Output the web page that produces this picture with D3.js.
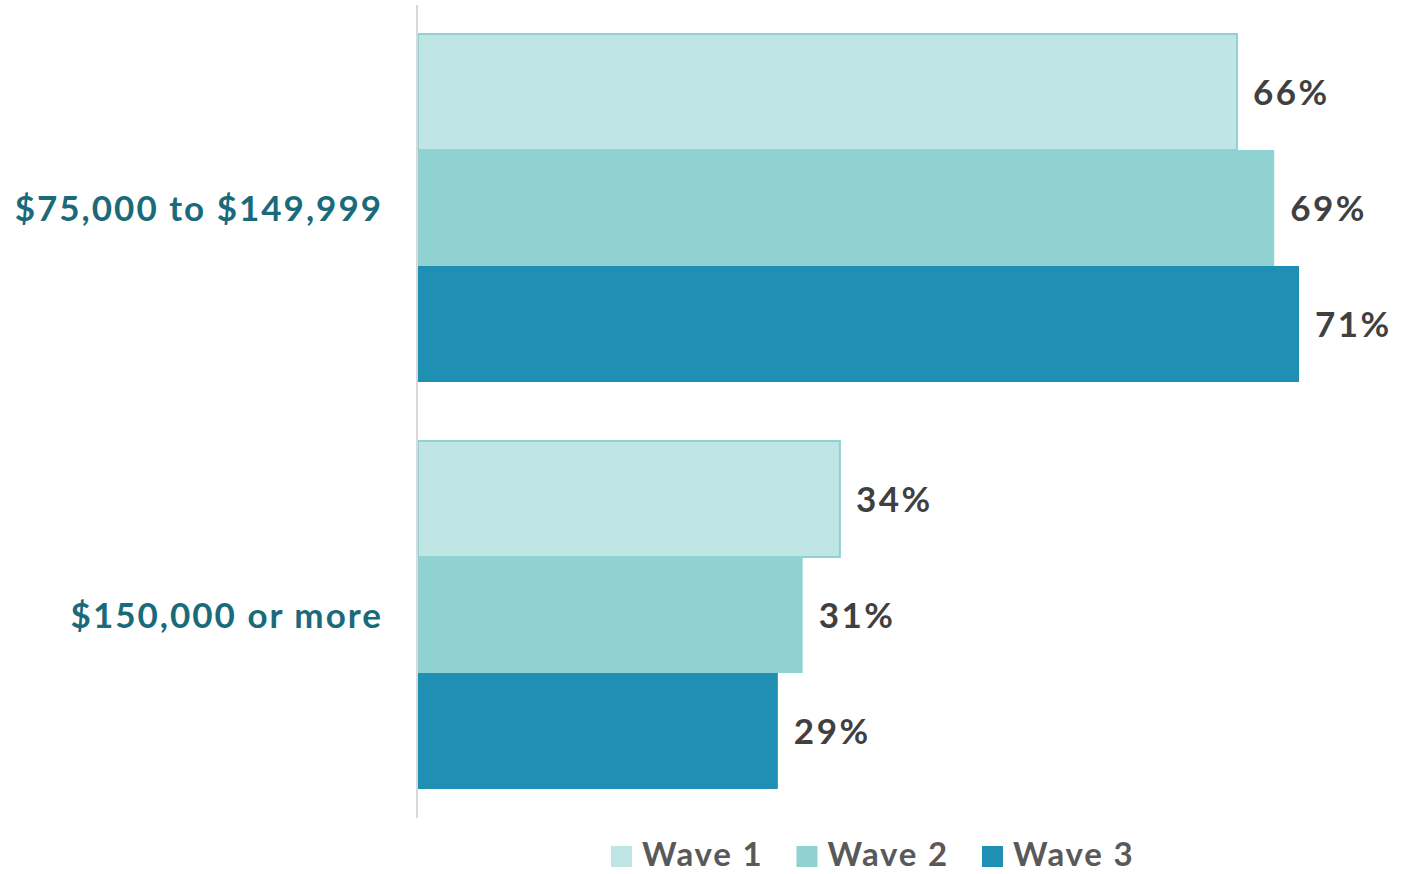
<!DOCTYPE html>
<html><head><meta charset="utf-8">
<script src="https://cdn.jsdelivr.net/npm/d3@7"></script>
<style>body{margin:0;background:#fff;} svg{display:block;}</style>
</head><body>
<svg id="c" width="1417" height="874"></svg>
<script>
const categories = ["$75,000 to $149,999", "$150,000 or more"];
const series = ["Wave 1", "Wave 2", "Wave 3"];
const wave1 = [66, 34];
const wave2 = [69, 31];
const wave3 = [71, 29];
const seriesValues = [wave1, wave2, wave3];
const colors = ["#bfe5e4", "#8fd2d1", "#1f8fb4"];
const strokes = ["#8fd2d1", "none", "none"];

const svg = d3.select("#c");
const font = "Lato, 'DejaVu Sans', sans-serif";
const x0 = 418;
const x = d3.scaleLinear().domain([0, 71]).range([x0, 1299]);
const y = d3.scaleBand().domain(categories).range([5, 818]).paddingInner(0.145).paddingOuter(0.0713);
const yi = d3.scaleBand().domain(series).range([0, y.bandwidth()]).padding(0);

const data = [];
categories.forEach((c, ci) => series.forEach((s, si) => data.push({c, s, si, v: seriesValues[si][ci]})));

svg.selectAll("rect.bar").data(data).join("rect")
  .attr("class", "bar")
  .attr("x", x0)
  .attr("y", d => y(d.c) + yi(d.s))
  .attr("width", d => x(d.v) - x0)
  .attr("height", yi.bandwidth())
  .attr("fill", d => colors[d.si])
  .attr("stroke", d => strokes[d.si])
  .attr("stroke-width", 2);

svg.selectAll("text.val").data(data).join("text")
  .attr("class", "val")
  .attr("x", d => x(d.v) + 16)
  .attr("y", d => y(d.c) + yi(d.s) + yi.bandwidth() / 2)
  .attr("dy", "0.36em")
  .attr("font-family", font).attr("font-weight", 700).attr("font-size", 35)
  .attr("letter-spacing", 2.5)
  .attr("fill", "#404040")
  .text(d => d.v + "%");

// axis line
const yAxis = d3.axisLeft(y).tickSize(0).tickPadding(34);
const ag = svg.append("g").attr("transform", `translate(${x0 - 1},0)`).call(yAxis);
ag.select(".domain").attr("stroke", "#d9d9d9").attr("stroke-width", 2).attr("d", "M0,5V818");
ag.selectAll(".tick text")
  .attr("font-family", font).attr("font-weight", 700).attr("font-size", 35)
  .attr("letter-spacing", 2)
  .attr("fill", "#1a6a7c").attr("dy", "0.36em");

// legend
const lg = svg.append("g");
let lx = 611;
series.forEach((s, i) => {
  lg.append("rect").attr("x", lx).attr("y", 846).attr("width", 21).attr("height", 21).attr("fill", colors[i]);
  const t = lg.append("text").attr("x", lx + 31).attr("y", 866)
    .attr("font-family", font).attr("font-weight", 700).attr("font-size", 33)
    .attr("letter-spacing", 1.8)
    .attr("fill", "#595959").text(s);
  lx += 31 + t.node().getComputedTextLength() + 33;
});
</script>
</body></html>
